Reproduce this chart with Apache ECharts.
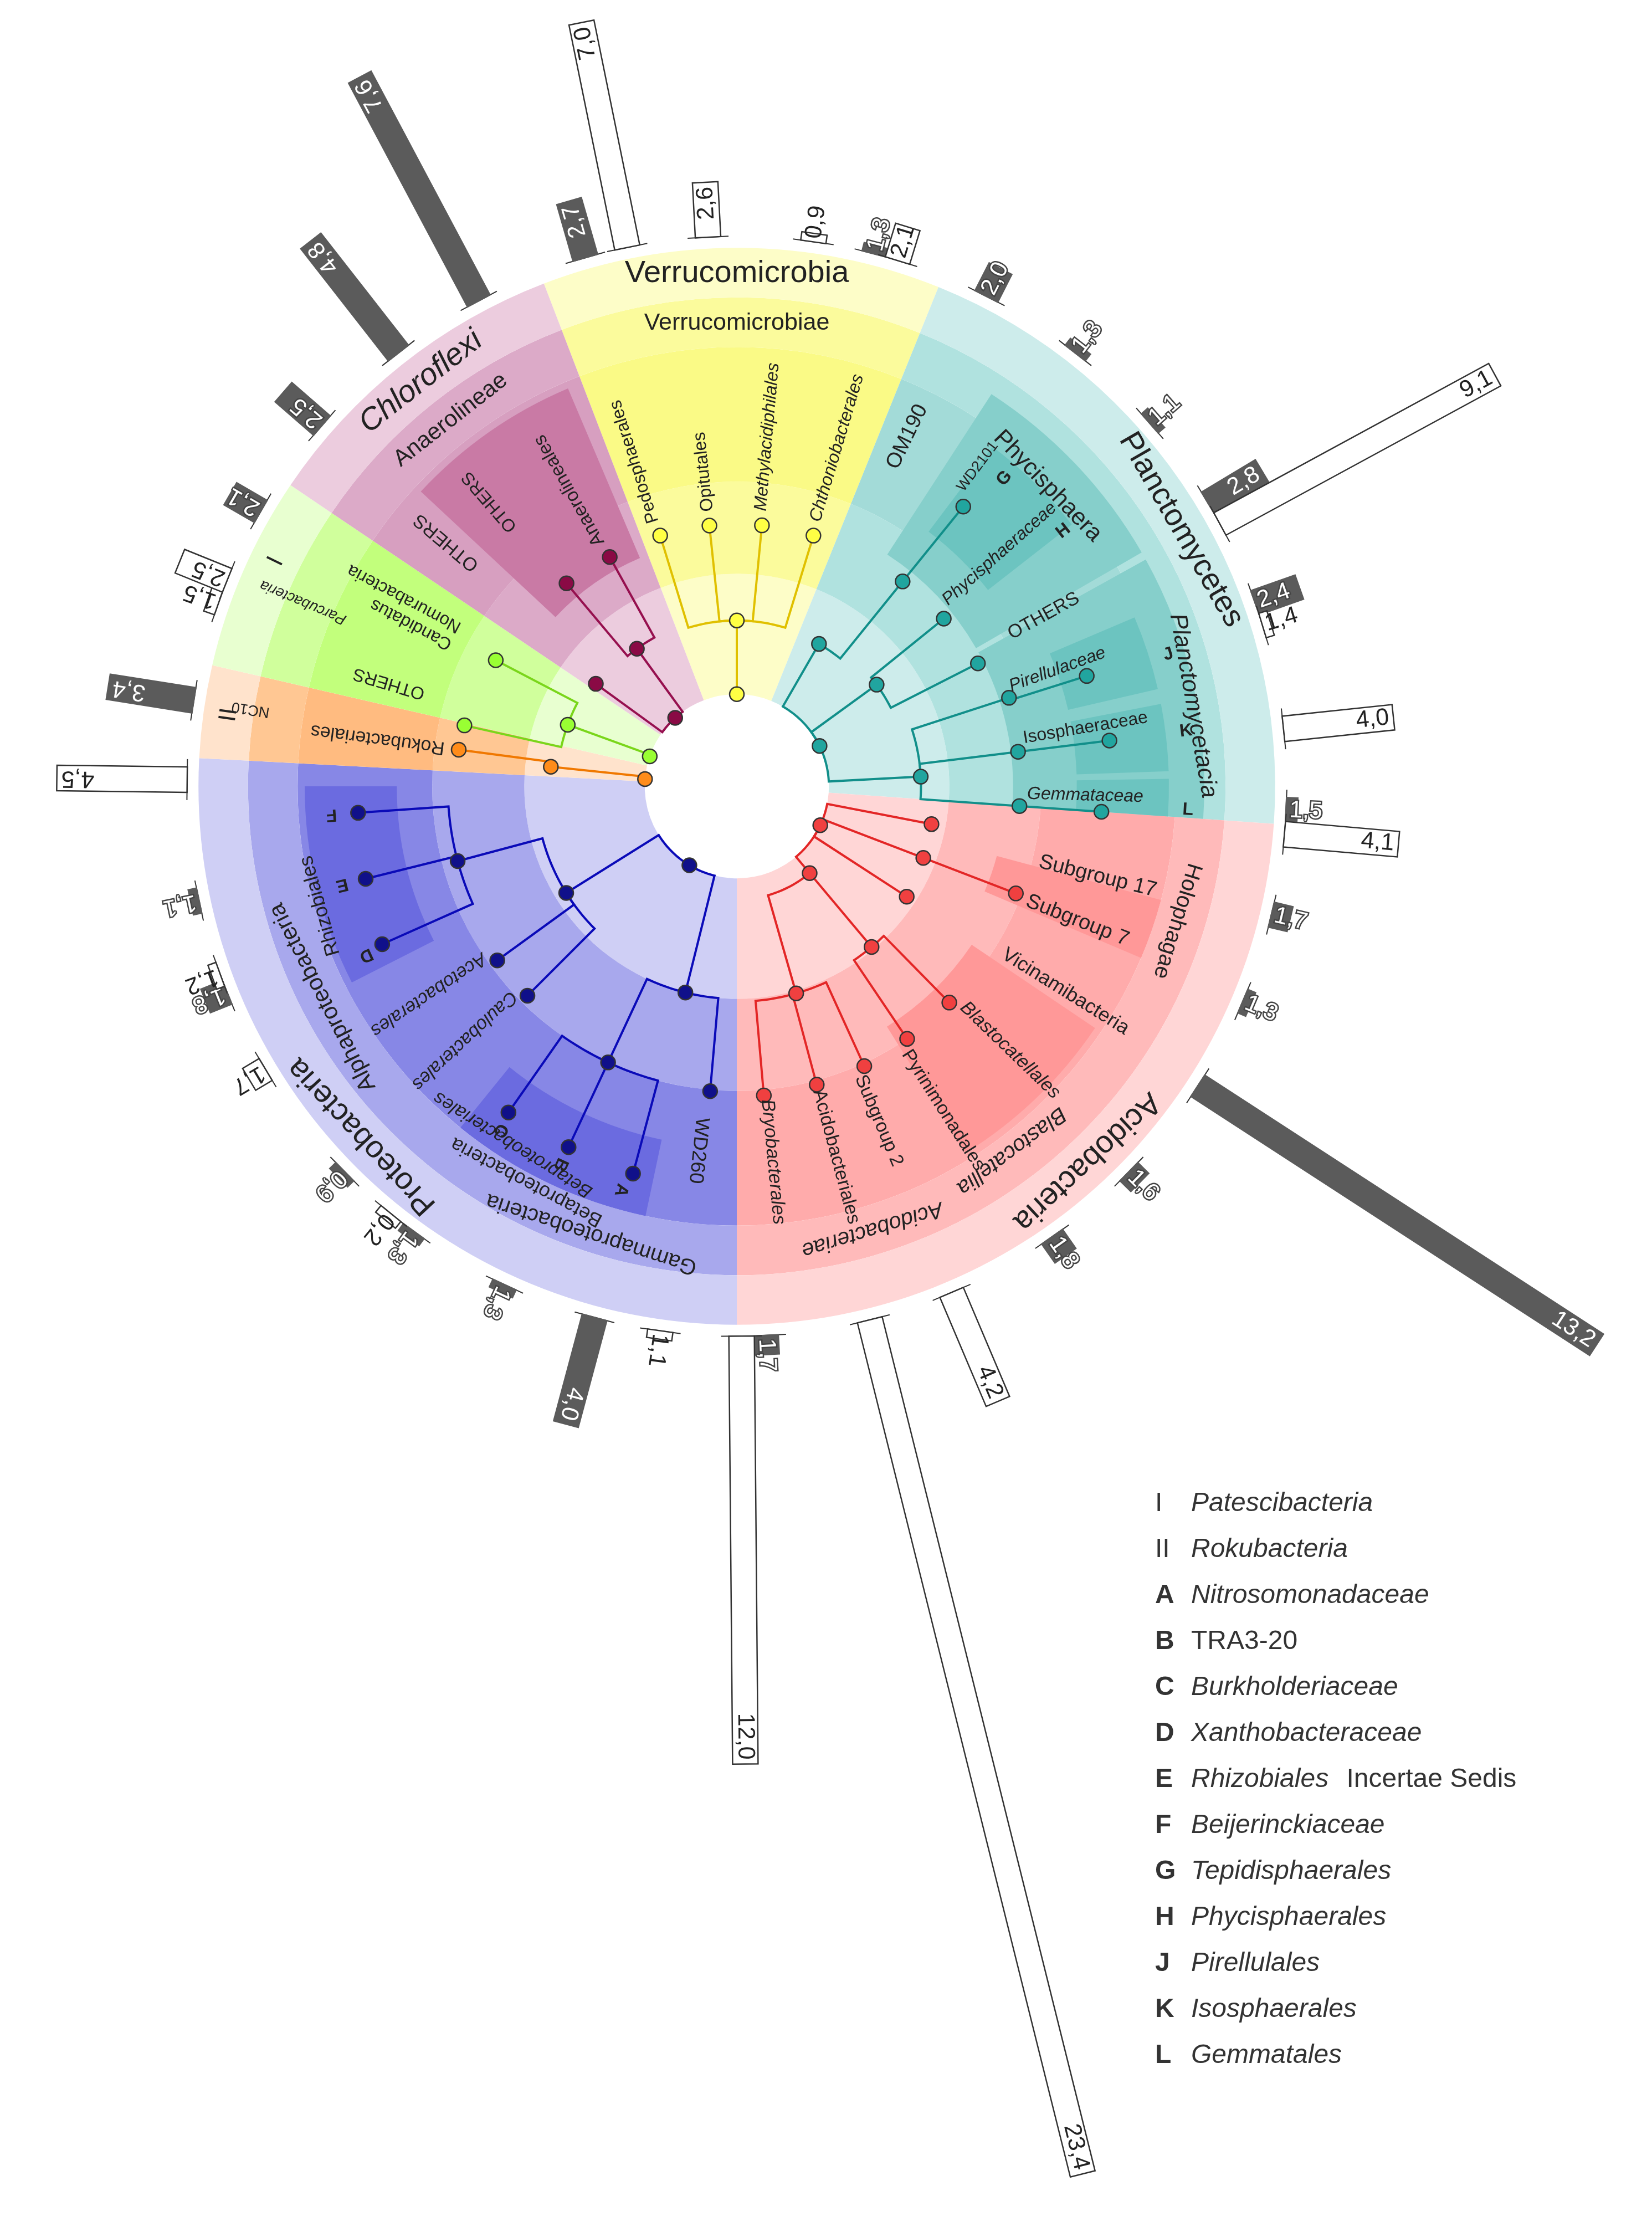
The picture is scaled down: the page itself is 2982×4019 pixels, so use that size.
<!DOCTYPE html>
<html><head><meta charset="utf-8">
<script src="https://cdn.jsdelivr.net/npm/echarts@6/dist/echarts.min.js"></script>
<style>html,body{margin:0;padding:0;background:#fff}#c{width:2982px;height:4019px}</style>
</head><body><div id="c"></div>
<script>
// ---------- DATA ----------
const phylumNames = ['Verrucomicrobia','Planctomycetes','Acidobacteria','Proteobacteria','II','I','Chloroflexi'];
const phylumStart = [-21, 22, 94, 180, 273, 283, 304];
const phylumEnd   = [22, 94, 180, 273, 283, 304, 339];

// highlighted sub-clade boxes: [phylum, angleFrom, angleTo, depthFrom, depthTo, shade]
const boxes = [
  [6,313,337,175,305,3],
  [1,33,60,195,330,3],[1,37,52,225,300,4],[1,61,94,195,330,3],
  [1,67,77,240,305,4],[1,79,88,240,305,4],[1,89,94,240,305,4],
  [2,105,113,190,310,3],[2,124,148,200,305,3],
  [3,243,270,240,305,3],[3,192,219,255,310,3]
];

// tree nodes per clade: [id, parent, angle, depth]
const treeVerruco = [['v0',null,0,65],['v1','v0',0,117],['v2','v1',-17,185],['v3','v1',-6,185],['v4','v1',5.5,185],['v5','v1',17,185]];
const treePlancto = [['t0',null,64,65],['t1','t0',30,116],['t2','t0',54,122],['t3','t0',87,130],['t4','t1',39,186],['t5','t4',39,254],
  ['t6','t2',51,188],['t7','t2',63,191],['t8','t3',72,202],['t9','t8',72.5,259],['t10','t3',83,200],['t11','t10',83,265],['t12','t3',94,200],['t13','t12',94,258]];
const treeAcido = [['a0',null,115,65],['a1','a0',101,140],['a2','a0',111,141],['a3','a2',111,211],['a4','a0',123,143],['a5','a0',140,80],
  ['a6','a5',140,148],['a7','a6',135.5,214],['a8','a6',146,215],['a9','a5',164,152],['a10','a9',155.5,217],['a11','a9',165,218],['a12','a9',175,219]];
const treeProteo = [['q0',null,211,65],['q1','q0',238,142],['q2','q0',194,150],['q3','q1',255,204],['qF','q3',266,268],['qE','q3',256,270],['qD','q3',246,274],
  ['q5','q1',234,209],['q6','q1',225,209],['q4','q2',205,215],['qC','q4',215,281],['qB','q4',205,281],['qA','q4',195,283],['q7','q2',185,216]];
const treeRoku = [['r0',null,274.5,65],['r1','r0',276,132],['r2','r1',277.5,198]];
const tree1Pates = [['p0',null,289,65],['p1','p0',290,127],['p2','p1',282.6,197],['p3','p1',297.6,192]];
const treeChloro = [['c0',null,318,65],['c1','c0',324,120],['c2','c0',306,123],['c3','c1',320,187],['c4','c1',331,185]];

// labels: [text, angle, depth, mode(tan|rad), size, italic, bold]
const labels = [
  ['Verrucomicrobia',0,362,'tan',56,0,0],['Planctomycetes',60,362,'tan',56,0,0],['Acidobacteria',137,362,'tan',56,0,0],
  ['Proteobacteria',227,362,'tan',56,0,0],['Chloroflexi',322,362,'tan',56,1,0],['I',296,362,'tan',44,0,0],['II',278,362,'tan',44,0,0],
  ['Verrucomicrobiae',0,327,'tan',43,0,0],['Planctomycetacia',80,327,'tan',43,1,0],['Phycisphaera',46,305,'tan',43,0,0],
  ['Holophagae',107,325,'tan',40,0,0],['Blastocatellia',143,322,'tan',40,1,0],['Acidobacteriae',163,327,'tan',40,1,0],
  ['Gammaproteobacteria',198,332,'tan',40,0,0],['Betaproteobacteria',208,316,'tan',36,0,0],['Betaproteobacteriales',212,298,'tan',34,1,0],
  ['Alphaproteobacteria',243,328,'tan',42,0,0],['Rhizobiales',254,306,'tan',36,0,0],['Anaerolineae',322,328,'tan',42,0,0],
  ['Parcubacteria',293,300,'rad',27,1,0],['NC10',279,334,'rad',27,0,0],['OM190',26,250,'rad',38,0,0],
  ['Pedosphaerales',-17.5,195,'rad',32,0,0],['Opitutales',-6,195,'rad',32,0,0],['Methylacidiphilales',5,195,'rad',32,1,0],['Chthoniobacterales',16.5,195,'rad',32,1,0],
  ['Anaerolineales',330.5,196,'rad',34,0,0],['OTHERS',319,240,'rad',32,0,0],['OTHERS',310,240,'rad',34,0,0],
  ['Candidatus\nNomurabacteria',298,225,'rad',32,0,0],['OTHERS',286.5,230,'rad',32,0,0],['Rokubacteriales',277.5,208,'rad',34,0,0],
  ['WD2101',37,262,'rad',27,0,0],['Phycisphaeraceae',48.5,196,'rad',32,1,0],['OTHERS',61,220,'rad',34,0,0],['Pirellulaceae',70,205,'rad',32,1,0],
  ['Isosphaeraceae',80.5,205,'rad',32,0,0],['Gemmataceae',91.5,205,'rad',32,1,0],
  ['G',41,283,'rad',32,0,1],['H',52,288,'rad',32,0,1],['J',73,315,'rad',32,0,1],['K',83,315,'rad',32,0,1],['L',93,315,'rad',32,0,1],
  ['Subgroup 17',104,220,'rad',38,0,0],['Subgroup 7',111.5,220,'rad',38,0,0],['Vicinamibacteria',122,222,'rad',36,0,0],
  ['Blastocatellales',134,222,'rad',34,1,0],['Pyrinimonadales',147.5,222,'rad',34,0,0],['Subgroup 2',157,222,'rad',34,0,0],
  ['Acidobacteriales',165,222,'rad',34,0,0],['Bryobacterales',174.5,222,'rad',34,1,0],
  ['WD260',186,235,'rad',36,0,0],['A',196,292,'rad',32,0,1],['B',205,290,'rad',32,0,1],['C',214.5,290,'rad',32,0,1],
  ['Caulobacterales',227,215,'rad',34,1,0],['Acetobacterales',236,215,'rad',34,1,0],
  ['D',245.5,283,'rad',32,0,1],['E',256,283,'rad',32,0,1],['F',266,283,'rad',32,0,1]
];

// abundance bars
const darkAngles = [332,344,322,311,300,279,258,248,225.5,216,205,195,177,145,134.5,123,113,103.5,92.5,70.5,59,48.7,38,27,14.5];
const darkValues = [7.6,2.7,4.8,2.5,2.1,3.4,1.1,1.8,0.9,1.3,1.3,4.0,1.7,1.8,1.6,13.2,1.3,1.7,1.5,2.4,2.8,1.1,1.3,2.0,1.3];
const whiteAngles = [348.5,357,8,17,61.5,73,84,95,157,166,179.5,188,219,239,250,289.5,292,270.7];
const whiteValues = [7.0,2.6,0.9,2.1,9.1,1.4,4.0,4.1,4.2,23.4,12.0,1.1,0.2,1.7,1.2,1.5,2.5,4.5];

const legendKeys = ['I','II','A','B','C','D','E','F','G','H','J','K','L'];
const legendNames = ['Patescibacteria','Rokubacteria','Nitrosomonadaceae','TRA3-20','Burkholderiaceae','Xanthobacteraceae','Rhizobiales','Beijerinckiaceae','Tepidisphaerales','Phycisphaerales','Pirellulales','Isosphaerales','Gemmatales'];
const legendItalic = [1,1,1,0,1,1,1,1,1,1,1,1,1];
const legendSuffix = ['','','','','','','Incertae Sedis','','','','','',''];

// ---------- STYLE ----------
const shades = [
 ['#fdfdc8','#fbfb9c','#fafa86','#f5f560','#f0f050','#fdfdc8'],
 ['#cdeceb','#b0e2df','#a3dbd8','#86cfcb','#6cc4c0','#cdeceb'],
 ['#ffd6d6','#ffbaba','#ffabab','#ff9898','#ff8888','#ffd6d6'],
 ['#cfcff5','#a8a8ed','#8787e6','#6b6be0','#5a5ad8','#cfcff5'],
 ['#ffe3cc','#ffc793','#ffbb80','#ffaa66','#ff9955','#ffe3cc'],
 ['#e8ffd0','#d0ff9c','#c2ff7c','#b0f060','#a0e050','#e8ffd0'],
 ['#ecccde','#dcaac8','#d79fc0','#c97aa5','#bb6090','#ecccde']];
const lineColors = ['#e0c000','#118f8a','#e32626','#0a0ab8','#f07800','#7ad61a','#96104f'];
const dotColors  = ['#ffff44','#21a59f','#f04040','#10108a','#ff8c1a','#99ff33','#8a0a45'];
const FONT = '"Liberation Sans", Arial, sans-serif';

// ---------- HELPERS ----------
const R0 = 354, PX = 28;               // radial axis: value 0 sits at depth 354, 28 depth units per value unit
const RMIN = -R0/PX, RMAX = (1100-R0)/PX;
const d2v = r => (r - R0)/PX;
const toRad = d => d*Math.PI/180;

const sectors = [];
phylumNames.forEach((n,i)=>{
  const a=phylumStart[i], b=phylumEnd[i];
  sectors.push([i,a,b,65,150,5],[i,a,b,150,215,1],[i,a,b,215,310,2],[i,a,b,310,345,1],[i,a,b,345,380,0]);
});
boxes.forEach(b=>sectors.push(b));

const clades = [treeVerruco,treePlancto,treeAcido,treeProteo,treeRoku,tree1Pates,treeChloro];
const nodes = []; const nodeMap = {};
clades.forEach((t,ci)=>t.forEach(n=>{const o={id:n[0],parent:n[1],a:n[2],r:n[3],c:ci};nodes.push(o);nodeMap[o.id]=o;}));

const bars = [];
darkAngles.forEach((a,i)=>bars.push({a,v:darkValues[i],dark:true}));
whiteAngles.forEach((a,i)=>bars.push({a,v:whiteValues[i],dark:false}));

function center(api){return api.coord([RMIN,0]);}
function rpx(api,r){const c=center(api),p=api.coord([d2v(r),0]);return Math.hypot(p[0]-c[0],p[1]-c[1]);}

const chart = echarts.init(document.getElementById('c'),null,{renderer:'canvas'});
const polarSeries = (name,data,z,renderItem)=>({type:'custom',name,coordinateSystem:'polar',data,z,renderItem,animation:false,silent:true});

chart.setOption({
  backgroundColor:'#ffffff',
  animation:false,
  polar:{center:[1330,1419],radius:2813},
  angleAxis:{type:'value',min:0,max:360,startAngle:90,clockwise:true,show:false},
  radiusAxis:{type:'value',min:RMIN,max:RMAX,show:false},
  series:[
    polarSeries('sectors',sectors.map(s=>[d2v(s[4]),s[1]]),1,(p,api)=>{
      const s=sectors[p.dataIndex]; const c=center(api);
      return {type:'sector',shape:{cx:c[0],cy:c[1],r0:rpx(api,s[3]),r:rpx(api,s[4]),
        startAngle:toRad(s[1]-90),endAngle:toRad(s[2]-90),clockwise:true},style:{fill:shades[s[0]][s[5]]}};
    }),
    polarSeries('edges',nodes.map(n=>[d2v(n.r),n.a]),3,(p,api)=>{
      const n=nodes[p.dataIndex]; if(!n.parent) return null;
      const q=nodeMap[n.parent]; const pts=[];
      const steps=Math.max(1,Math.ceil(Math.abs(n.a-q.a)));
      for(let k=0;k<=steps;k++) pts.push(api.coord([d2v(q.r),q.a+(n.a-q.a)*k/steps]));
      pts.push(api.coord([d2v(n.r),n.a]));
      return {type:'polyline',shape:{points:pts},style:{stroke:lineColors[n.c],lineWidth:4,fill:null}};
    }),
    polarSeries('nodes',nodes.map(n=>[d2v(n.r),n.a]),4,(p,api)=>{
      const n=nodes[p.dataIndex]; const pt=api.coord([d2v(n.r),n.a]);
      return {type:'circle',shape:{cx:pt[0],cy:pt[1],r:13},style:{fill:dotColors[n.c],stroke:'#333',lineWidth:2.5}};
    }),
    polarSeries('labels',labels.map(l=>[d2v(l[2]),l[1]]),5,(p,api)=>{
      const l=labels[p.dataIndex]; const pt=api.coord([d2v(l[2]),l[1]]);
      const tan=l[3]==='tan';
      return {type:'text',x:pt[0],y:pt[1],rotation:tan?toRad(-l[1]):toRad(90-l[1]),
        style:{text:l[0],fill:'#222',font:(l[5]?'italic ':'')+(l[6]?'bold ':'')+l[4]+'px '+FONT,
          align:tan?'center':'left',verticalAlign:'middle',lineHeight:l[4]*1.1}};
    }),
    polarSeries('bars',bars.map(b=>[b.v,b.a]),6,(p,api)=>{
      const b=bars[p.dataIndex];
      const base=api.coord([d2v(388),b.a]);
      const tip=api.coord([Math.max(b.v,d2v(394)),b.a]);
      const dx=tip[0]-base[0],dy=tip[1]-base[1],L=Math.hypot(dx,dy);
      const ux=dx/L,uy=dy/L,nx=-uy,ny=ux,hw=23;
      const poly={type:'polygon',shape:{points:[[base[0]+nx*hw,base[1]+ny*hw],[tip[0]+nx*hw,tip[1]+ny*hw],[tip[0]-nx*hw,tip[1]-ny*hw],[base[0]-nx*hw,base[1]-ny*hw]]},
        style:{fill:b.dark?'#5b5b5b':'#ffffff',stroke:b.dark?'#5b5b5b':'#333',lineWidth:2.5}};
      const tick={type:'line',shape:{x1:base[0]+nx*(hw+14),y1:base[1]+ny*(hw+14),x2:base[0]-nx*(hw+14),y2:base[1]-ny*(hw+14)},style:{stroke:'#333',lineWidth:2}};
      const txt=b.v.toFixed(1).replace('.',',');
      const long=L>95;
      const lx=long?tip[0]-ux*8:base[0]+ux*6, ly=long?tip[1]-uy*8:base[1]+uy*6;
      const label={type:'text',x:lx,y:ly,rotation:toRad(90-b.a),
        style:{text:txt,font:'43px '+FONT,align:long?'right':'left',verticalAlign:'middle',
          fill:b.dark?'#ffffff':'#222',stroke:(b.dark&&!long)?'#444':null,lineWidth:(b.dark&&!long)?5:0}};
      return {type:'group',children:[tick,poly,label]};
    })
  ],
  graphic: legendKeys.map((k,i)=>({type:'group',left:2085,top:2690+i*83,children:[
    {type:'text',left:0,top:0,style:{text:k,font:(k.startsWith('I')?'':'bold ')+'48px '+FONT,fill:'#333'}},
    {type:'text',left:65,top:0,style:{text:legendNames[i]+(legendSuffix[i]?' ':''),font:(legendItalic[i]?'italic ':'')+'48px '+FONT,fill:'#333'}},
    ...(legendSuffix[i]?[{type:'text',left:65+legendNames[i].length*25.5,top:0,style:{text:legendSuffix[i],font:'48px '+FONT,fill:'#333'}}]:[])
  ]}))
});
</script></body></html>
